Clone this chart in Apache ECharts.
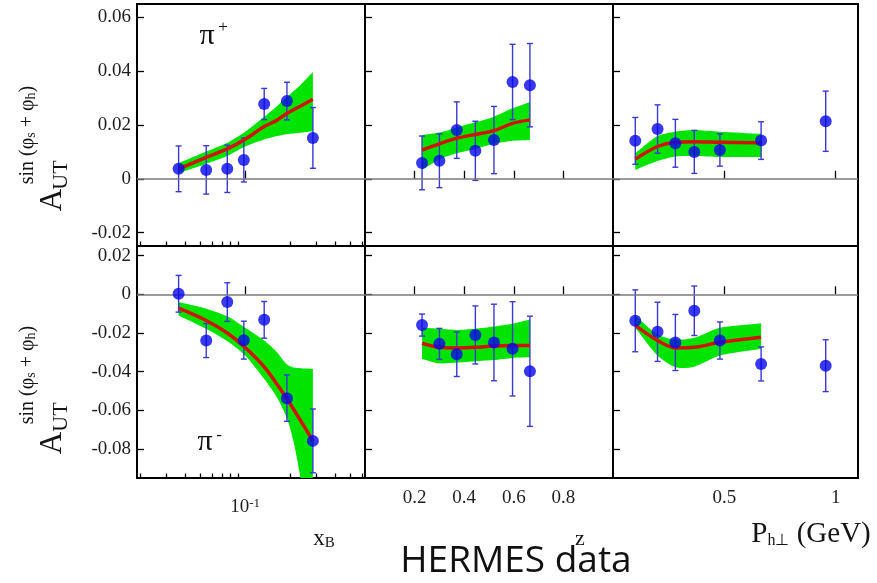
<!DOCTYPE html>
<html>
<head>
<meta charset="utf-8">
<script src="https://cdn.jsdelivr.net/npm/echarts@6/dist/echarts.min.js"></script>
<style>
  html, body { margin: 0; padding: 0; background: #fff; }
  #chart { width: 877px; height: 583px; }
</style>
</head>
<body>
<div id="chart"></div>
<script>
// ---- kinematic bins ----
const xBins  = [0.036, 0.055, 0.076, 0.098, 0.134, 0.19, 0.283];
const zBins  = [0.23, 0.30, 0.37, 0.445, 0.52, 0.595, 0.665];
const phBins = [0.10, 0.20, 0.28, 0.365, 0.48, 0.665, 0.955];

// ---- measured asymmetries, pi+ ----
const aPipX = [0.0037, 0.0033, 0.0037, 0.0070, 0.0278, 0.0289, 0.0152];
const ePipX = [0.0085, 0.0090, 0.0088, 0.0082, 0.0058, 0.0070, 0.0113];
const aPipZ = [0.0059, 0.0067, 0.0181, 0.0104, 0.0144, 0.0360, 0.0348];
const ePipZ = [0.0100, 0.0100, 0.0105, 0.0110, 0.0125, 0.0140, 0.0155];
const aPipP = [0.0141, 0.0185, 0.0132, 0.0100, 0.0107, 0.0142, 0.0214];
const ePipP = [0.0087, 0.0090, 0.0089, 0.0080, 0.0060, 0.0070, 0.0112];

// ---- measured asymmetries, pi- ----
const aPimX = [0.0003, -0.0239, -0.0040, -0.0237, -0.0132, -0.0537, -0.0758];
const ePimX = [0.0095, 0.0088, 0.0100, 0.0098, 0.0095, 0.0120, 0.0165];
const aPimZ = [-0.0159, -0.0256, -0.0310, -0.0210, -0.0249, -0.0282, -0.0398];
const ePimZ = [0.0057, 0.0080, 0.0115, 0.0150, 0.0198, 0.0244, 0.0285];
const aPimP = [-0.0137, -0.0194, -0.0249, -0.0085, -0.0239, -0.0360, -0.0369];
const ePimP = [0.0160, 0.0153, 0.0145, 0.0128, 0.0096, 0.0088, 0.0134];

// ---- model curves and uncertainty bands ----
const fitXB   = [0.036, 0.055, 0.076, 0.1, 0.134, 0.163, 0.19, 0.233, 0.283];
const fitPipX = [0.0037, 0.0080, 0.0111, 0.0147, 0.0194, 0.0218, 0.0243, 0.0270, 0.0296];
const loPipX  = [0.0021, 0.0056, 0.0085, 0.0120, 0.0146, 0.0159, 0.0166, 0.0171, 0.0177];
const hiPipX  = [0.0058, 0.0101, 0.0134, 0.0175, 0.0231, 0.0270, 0.0305, 0.0348, 0.0397];
const fitPimX = [-0.0071, -0.0135, -0.0200, -0.0275, -0.0375, -0.0465, -0.0540, -0.0650, -0.0758];
const bandXBm = [0.036, 0.055, 0.076, 0.1, 0.134, 0.163, 0.19, 0.21, 0.233, 0.255, 0.283];
const loPimX  = [-0.0109, -0.0178, -0.0242, -0.0317, -0.0438, -0.0533, -0.0640, -0.0760, -0.0940, -0.1120, -0.1350];
const hiPimX  = [-0.0040, -0.0074, -0.0114, -0.0173, -0.0239, -0.0299, -0.0362, -0.0379, -0.0382, -0.0384, -0.0386];

const fitPipZ = [0.0107, 0.0130, 0.0151, 0.0165, 0.0179, 0.0206, 0.0219];
const loPipZ  = [0.0033, 0.0073, 0.0095, 0.0111, 0.0130, 0.0141, 0.0144];
const hiPipZ  = [0.0163, 0.0172, 0.0191, 0.0210, 0.0231, 0.0262, 0.0286];
const fitPimZ = [-0.0253, -0.0274, -0.0277, -0.0274, -0.0267, -0.0265, -0.0265];
const loPimZ  = [-0.0334, -0.0357, -0.0353, -0.0346, -0.0340, -0.0329, -0.0326];
const hiPimZ  = [-0.0173, -0.0178, -0.0184, -0.0178, -0.0166, -0.0152, -0.0130];

const fitPh   = [0.10, 0.20, 0.28, 0.365, 0.48, 0.665];
const fitPipP = [0.0073, 0.0120, 0.0136, 0.0138, 0.0136, 0.0134];
const loPipP  = [0.0033, 0.0066, 0.0083, 0.0085, 0.0081, 0.0081];
const hiPipP  = [0.0095, 0.0159, 0.0175, 0.0181, 0.0175, 0.0167];
const fitPimP = [-0.0161, -0.0239, -0.0277, -0.0274, -0.0248, -0.0222];
const loPimP  = [-0.0173, -0.0317, -0.0377, -0.0374, -0.0317, -0.0282];
const hiPimP  = [-0.0109, -0.0208, -0.0235, -0.0225, -0.0173, -0.0149];

// ---- axis ranges and ticks ----
const yRangeTop = [-0.025, 0.065];
const yRangeBot = [-0.095, 0.025];
const yTicksTop = [-0.02, 0, 0.02, 0.04, 0.06];
const yTicksBot = [-0.08, -0.06, -0.04, -0.02, 0, 0.02];
const xbRange = [0.019, 0.63];
const xbMajor = [0.1];
const xbMinor = [0.02, 0.03, 0.04, 0.05, 0.06, 0.07, 0.08, 0.09, 0.2, 0.3, 0.4, 0.5, 0.6];
const zRange = [0, 1];
const zTicks = [0.2, 0.4, 0.6, 0.8];
const phRange = [0, 1.1];
const phTicks = [0.5, 1];

const SERIF = '"Liberation Serif", "Times New Roman", serif';
const GREEN = '#00e400';
const RED = '#d0140a';
const BLUE = '#0606ea';
const ERRC = '#3a3ad2';

const lg = v => Math.log10(v);
const ident = v => v;

// panel geometry (3 columns x 2 rows)
const colLeft = [137, 365, 613];
const colWidth = [228, 248, 245];
const rowTop = [4, 246];
const rowHeight = [242, 232];

const grids = [];
for (let r = 0; r < 2; r++) {
  for (let c = 0; c < 3; c++) {
    grids.push({
      left: colLeft[c], top: rowTop[r], width: colWidth[c], height: rowHeight[r],
      show: true, borderColor: '#000', borderWidth: 2, backgroundColor: 'transparent',
      containLabel: false, outerBoundsMode: 'none'
    });
  }
}

const tickLine = { color: '#000', width: 1.3 };
const labelBase = { fontFamily: SERIF, fontSize: 19, color: '#1e1e1e' };

const yAxis = [];
const xAxis = [];
for (let r = 0; r < 2; r++) {
  for (let c = 0; c < 3; c++) {
    const g = r * 3 + c;
    const rng = r === 0 ? yRangeTop : yRangeBot;
    const ticks = r === 0 ? yTicksTop : yTicksBot;
    yAxis.push({
      type: 'value', gridIndex: g, min: rng[0], max: rng[1],
      axisLine: { show: false }, splitLine: { show: false },
      axisTick: { show: true, inside: true, length: 7, customValues: ticks, lineStyle: tickLine },
      axisLabel: Object.assign({
        show: c === 0, customValues: ticks, margin: 6,
        formatter: v => (Math.abs(v) < 1e-9 ? '0' : v.toFixed(2))
      }, labelBase)
    });
  }
}
for (let r = 0; r < 2; r++) {
  const showLab = r === 1;
  // x_B (log) — major decade tick with its label
  xAxis.push({
    type: 'value', gridIndex: r * 3, position: 'bottom', min: lg(xbRange[0]), max: lg(xbRange[1]),
    axisLine: { show: false }, splitLine: { show: false },
    axisTick: { show: true, inside: true, length: 8, customValues: xbMajor.map(lg), lineStyle: tickLine },
    axisLabel: {
      show: showLab, customValues: xbMajor.map(lg), margin: 19,
      formatter: () => '{b|10}{s|-1}',
      rich: {
        b: { fontFamily: SERIF, fontSize: 19, color: '#1e1e1e', lineHeight: 20, padding: [4, 0, 0, 0], verticalAlign: 'bottom' },
        s: { fontFamily: SERIF, fontSize: 13, color: '#1e1e1e', lineHeight: 13, verticalAlign: 'top' }
      }
    }
  });
  // z
  xAxis.push({
    type: 'value', gridIndex: r * 3 + 1, min: zRange[0], max: zRange[1],
    axisLine: { show: false }, splitLine: { show: false },
    axisTick: { show: true, inside: true, length: 8, customValues: zTicks, lineStyle: tickLine },
    axisLabel: Object.assign({ show: showLab, customValues: zTicks, margin: 11, formatter: v => v.toFixed(1) }, labelBase)
  });
  // P_h⊥
  xAxis.push({
    type: 'value', gridIndex: r * 3 + 2, min: phRange[0], max: phRange[1],
    axisLine: { show: false }, splitLine: { show: false },
    axisTick: { show: true, inside: true, length: 8, customValues: phTicks, lineStyle: tickLine },
    axisLabel: Object.assign({ show: showLab, customValues: phTicks, margin: 11, formatter: v => String(v) }, labelBase)
  });
}
// x_B minor ticks (indices 6 and 7)
for (let r = 0; r < 2; r++) {
  xAxis.push({
    type: 'value', gridIndex: r * 3, position: 'bottom', min: lg(xbRange[0]), max: lg(xbRange[1]),
    axisLine: { show: false }, splitLine: { show: false },
    axisTick: { show: true, inside: true, length: 4.5, customValues: xbMinor.map(lg), lineStyle: tickLine },
    axisLabel: { show: false }
  });
}

const panels = [
  { g: 0, toX: lg,    px: xBins,  a: aPipX, e: ePipX, fx: fitXB,   f: fitPipX, bx: fitXB,   lo: loPipX, hi: hiPipX },
  { g: 1, toX: ident, px: zBins,  a: aPipZ, e: ePipZ, fx: zBins,   f: fitPipZ, bx: zBins,   lo: loPipZ, hi: hiPipZ },
  { g: 2, toX: ident, px: phBins, a: aPipP, e: ePipP, fx: fitPh,   f: fitPipP, bx: fitPh,   lo: loPipP, hi: hiPipP },
  { g: 3, toX: lg,    px: xBins,  a: aPimX, e: ePimX, fx: fitXB,   f: fitPimX, bx: bandXBm, lo: loPimX, hi: hiPimX },
  { g: 4, toX: ident, px: zBins,  a: aPimZ, e: ePimZ, fx: zBins,   f: fitPimZ, bx: zBins,   lo: loPimZ, hi: hiPimZ },
  { g: 5, toX: ident, px: phBins, a: aPimP, e: ePimP, fx: fitPh,   f: fitPimP, bx: fitPh,   lo: loPimP, hi: hiPimP }
];

const zeroLine = {
  silent: true, symbol: ['none', 'none'], label: { show: false },
  lineStyle: { color: '#7a7a7a', width: 1.5, type: 'solid' },
  emphasis: { disabled: true }, animation: false,
  data: [{ yAxis: 0 }]
};

// Uncertainty band: one closed, lightly smoothed polygon through the upper
// edge and back along the lower edge (end vertices doubled to keep corners).
function bandRenderer(rows) {
  return function (params, api) {
    if (params.dataIndex !== 0) return null;
    const up = rows.map(d => api.coord([d[0], d[2]]));
    const lo = rows.map(d => api.coord([d[0], d[1]])).reverse();
    const pts = [up[0]].concat(up, [up[up.length - 1]], [lo[0]], lo, [lo[lo.length - 1]]);
    return {
      type: 'polygon',
      shape: { points: pts, smooth: 0.25 },
      style: { fill: GREEN, stroke: null }
    };
  };
}

function errorBar(params, api) {
  const x = api.value(0), y = api.value(1), e = api.value(2);
  const p1 = api.coord([x, y + e]);
  const p2 = api.coord([x, y - e]);
  const w = 3;
  const st = { stroke: ERRC, lineWidth: 1.4 };
  return {
    type: 'group',
    children: [
      { type: 'line', shape: { x1: p1[0], y1: p1[1], x2: p2[0], y2: p2[1] }, style: st },
      { type: 'line', shape: { x1: p1[0] - w, y1: p1[1], x2: p1[0] + w, y2: p1[1] }, style: st },
      { type: 'line', shape: { x1: p2[0] - w, y1: p2[1], x2: p2[0] + w, y2: p2[1] }, style: st }
    ]
  };
}

const series = [];
panels.forEach(p => {
  const xa = p.g;
  const ya = p.g;
  const bandRows = p.bx.map((x, i) => [p.toX(x), p.lo[i], p.hi[i]]);
  series.push({
    type: 'custom', xAxisIndex: xa, yAxisIndex: ya, clip: true,
    data: bandRows, encode: { x: 0, y: [1, 2] },
    renderItem: bandRenderer(bandRows), silent: true, z: 1,
    markLine: zeroLine
  });
  series.push({
    type: 'custom', xAxisIndex: xa, yAxisIndex: ya, clip: true,
    data: p.px.map((x, i) => [p.toX(x), p.a[i], p.e[i]]),
    encode: { x: 0, y: 1 }, renderItem: errorBar, silent: true, z: 3
  });
  series.push({
    type: 'line', xAxisIndex: xa, yAxisIndex: ya,
    data: p.fx.map((x, i) => [p.toX(x), p.f[i]]),
    symbol: 'none', smooth: 0.35, lineStyle: { color: RED, width: 3.5 }, silent: true, z: 4
  });
  series.push({
    type: 'scatter', xAxisIndex: xa, yAxisIndex: ya,
    data: p.px.map((x, i) => [p.toX(x), p.a[i]]),
    symbolSize: 12, itemStyle: { color: BLUE }, silent: true, z: 5
  });
});

// ---- titles and annotations ----
const ROT = Math.PI / 2;
function yTitle(aY, utY, supY) {
  return [
    { type: 'text', x: 53, y: aY, rotation: ROT,
      style: { text: 'A', font: '31px ' + SERIF, fill: '#151515', align: 'center', verticalAlign: 'middle' } },
    { type: 'text', x: 61, y: utY, rotation: ROT,
      style: { text: 'UT', font: '22px ' + SERIF, fill: '#151515', align: 'center', verticalAlign: 'middle' } },
    { type: 'text', x: 28, y: supY, rotation: ROT,
      style: {
        text: '{m|sin (φ}{s|s}{m| + φ}{s|h}{m|)}', fill: '#151515', align: 'center', verticalAlign: 'middle',
        rich: {
          m: { fontFamily: SERIF, fontSize: 20, lineHeight: 20, verticalAlign: 'top' },
          s: { fontFamily: SERIF, fontSize: 14, lineHeight: 14, padding: [9, 0, 0, 0], verticalAlign: 'bottom' }
        }
      } }
  ];
}

const graphic = [].concat(
  yTitle(200, 175, 135),
  yTitle(443, 417, 375),
  [
    { type: 'text', x: 207, y: 36, style: { text: 'π', font: '30px ' + SERIF, fill: '#111', align: 'center', verticalAlign: 'middle' } },
    { type: 'text', x: 223, y: 28, style: { text: '+', font: '17px ' + SERIF, fill: '#111', align: 'center', verticalAlign: 'middle' } },
    { type: 'text', x: 205, y: 442, style: { text: 'π', font: '30px ' + SERIF, fill: '#111', align: 'center', verticalAlign: 'middle' } },
    { type: 'text', x: 219, y: 436, style: { text: '-', font: '17px ' + SERIF, fill: '#111', align: 'center', verticalAlign: 'middle' } },
    { type: 'text', x: 324, y: 539, style: {
        text: '{m|x}{s|B}', fill: '#151515', align: 'center', verticalAlign: 'middle',
        rich: {
          m: { fontFamily: SERIF, fontSize: 23, lineHeight: 23, verticalAlign: 'top' },
          s: { fontFamily: SERIF, fontSize: 15, lineHeight: 15, padding: [8, 0, 0, 0], verticalAlign: 'bottom' }
        } } },
    { type: 'text', x: 580, y: 539, style: { text: 'z', font: '22px ' + SERIF, fill: '#151515', align: 'center', verticalAlign: 'middle' } },
    { type: 'text', x: 811, y: 534, style: {
        text: '{m|P}{s|h⊥}{m| (GeV)}', fill: '#151515', align: 'center', verticalAlign: 'middle',
        rich: {
          m: { fontFamily: SERIF, fontSize: 29, lineHeight: 29, verticalAlign: 'top' },
          s: { fontFamily: SERIF, fontSize: 16, lineHeight: 16, padding: [11, 0, 0, 0], verticalAlign: 'bottom' }
        } } },
    { type: 'text', x: 516, y: 561, style: { text: 'HERMES data', font: '37px "Open Sans", "Noto Sans", sans-serif', fill: '#111', align: 'center', verticalAlign: 'middle' } }
  ]
);

const chart = echarts.init(document.getElementById('chart'), null, { renderer: 'canvas' });
chart.setOption({
  animation: false,
  backgroundColor: '#fff',
  grid: grids,
  xAxis: xAxis,
  yAxis: yAxis,
  series: series,
  graphic: graphic
});
</script>
</body>
</html>
